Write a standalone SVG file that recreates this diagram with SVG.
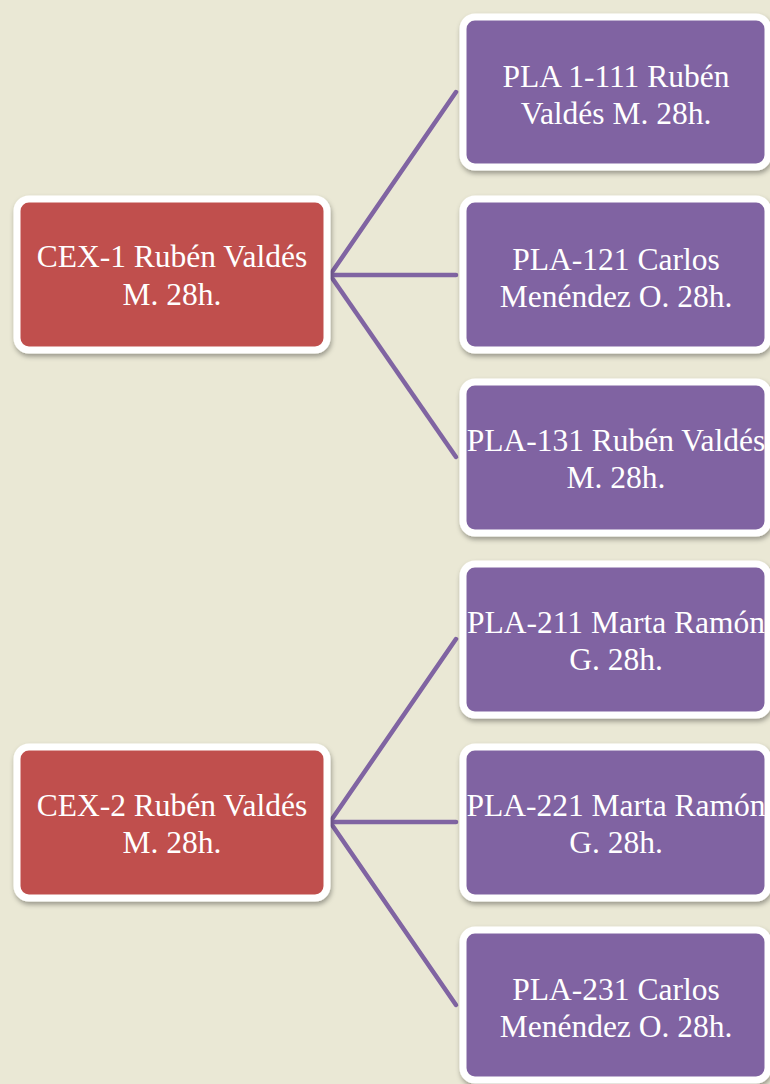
<svg xmlns="http://www.w3.org/2000/svg" width="770" height="1084" viewBox="0 0 770 1084">
<defs>
<filter id="sh" x="-10%" y="-10%" width="125%" height="130%">
<feDropShadow dx="1" dy="3" stdDeviation="2.5" flood-color="#000" flood-opacity="0.35"/>
</filter>
<style>
.red{fill:#C0504D;stroke:#fff;stroke-width:7;filter:url(#sh)}
.pur{fill:#8064A2;stroke:#fff;stroke-width:7;filter:url(#sh)}
.t{font-family:"Liberation Serif","Times New Roman",serif;font-size:31.5px;fill:#fff;text-anchor:middle}
.c{stroke:#8064A2;stroke-width:4.5;fill:none;stroke-linecap:round}
</style>
</defs>
<rect x="0" y="0" width="770" height="1084" fill="#EAE8D5"/>
<g id="connectors">
<line class="c" x1="330" y1="275" x2="456" y2="92"/>
<line class="c" x1="330" y1="275" x2="456" y2="275"/>
<line class="c" x1="330" y1="275" x2="456" y2="457"/>
<line class="c" x1="330" y1="822" x2="456" y2="639"/>
<line class="c" x1="330" y1="822" x2="456" y2="822"/>
<line class="c" x1="330" y1="822" x2="456" y2="1005"/>
</g>
<g id="cex1">
<rect class="red" x="17" y="199" width="310" height="151" rx="12"/>
<text class="t" x="172" y="267">CEX-1 Rubén Valdés</text>
<text class="t" x="172" y="305">M. 28h.</text>
</g>
<g id="cex2">
<rect class="red" x="17" y="747" width="310" height="151" rx="12"/>
<text class="t" x="172" y="816">CEX-2 Rubén Valdés</text>
<text class="t" x="172" y="853">M. 28h.</text>
</g>
<g id="pla111">
<rect class="pur" x="463" y="17" width="305" height="150" rx="12"/>
<text class="t" x="616" y="87">PLA 1-111 Rubén</text>
<text class="t" x="616" y="124">Valdés M. 28h.</text>
</g>
<g id="pla121">
<rect class="pur" x="463" y="199" width="305" height="151" rx="12"/>
<text class="t" x="616" y="270">PLA-121 Carlos</text>
<text class="t" x="616" y="307">Menéndez O. 28h.</text>
</g>
<g id="pla131">
<rect class="pur" x="463" y="382" width="305" height="151" rx="12"/>
<text class="t" x="616" y="451">PLA-131 Rubén Valdés</text>
<text class="t" x="616" y="488">M. 28h.</text>
</g>
<g id="pla211">
<rect class="pur" x="463" y="564" width="305" height="151" rx="12"/>
<text class="t" x="616" y="633">PLA-211 Marta Ramón</text>
<text class="t" x="616" y="670">G. 28h.</text>
</g>
<g id="pla221">
<rect class="pur" x="463" y="747" width="305" height="151" rx="12"/>
<text class="t" x="616" y="816">PLA-221 Marta Ramón</text>
<text class="t" x="616" y="853">G. 28h.</text>
</g>
<g id="pla231">
<rect class="pur" x="463" y="930" width="305" height="150" rx="12"/>
<text class="t" x="616" y="1000">PLA-231 Carlos</text>
<text class="t" x="616" y="1037">Menéndez O. 28h.</text>
</g>
</svg>
